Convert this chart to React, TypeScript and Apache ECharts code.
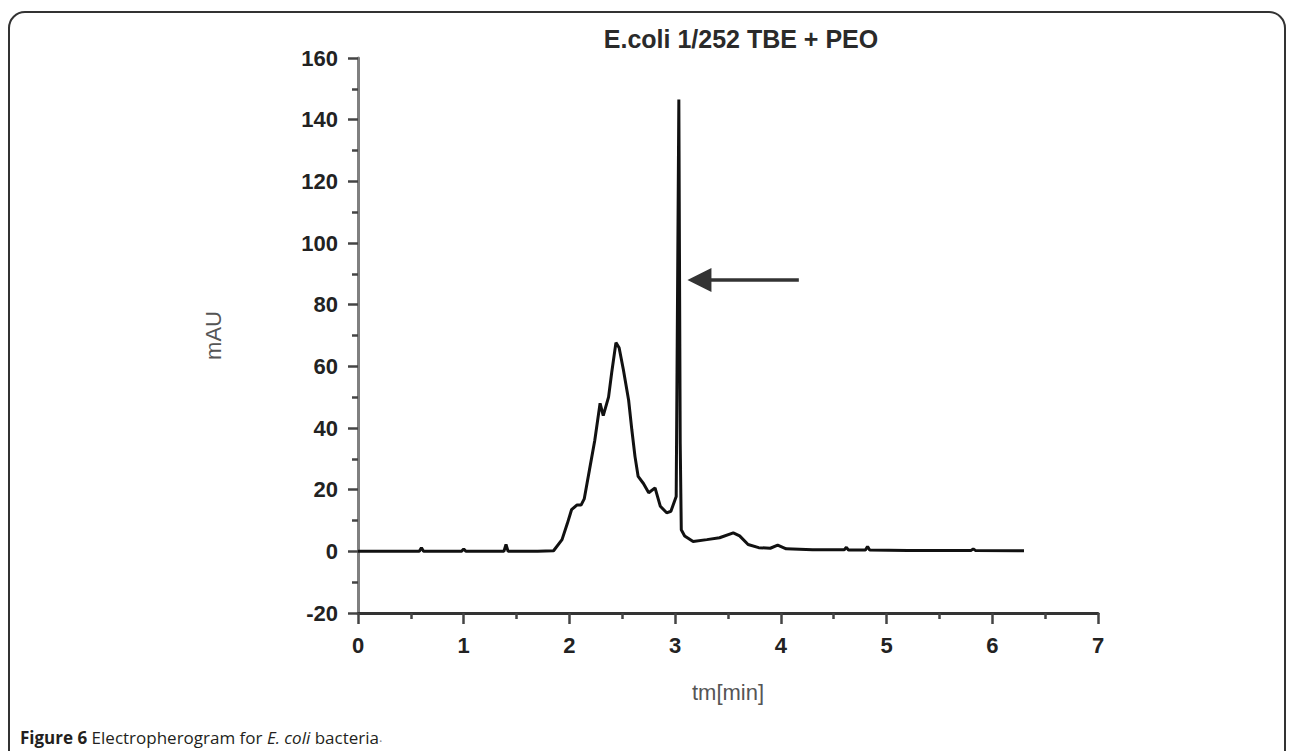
import React, { useEffect, useRef } from "react";
import * as echarts from "echarts";

// Time axis (minutes) and absorbance (mAU)
const timeMin: number[] = [
  0, 0.3, 0.58, 0.6, 0.62, 0.98, 1.0, 1.02, 1.38, 1.4, 1.42, 1.7, 1.85,
  1.93, 1.98, 2.02, 2.07, 2.11, 2.14, 2.19, 2.24, 2.29, 2.32, 2.37, 2.4,
  2.44, 2.47, 2.51, 2.56, 2.59, 2.62, 2.65, 2.7, 2.75, 2.81, 2.86, 2.92,
  2.96, 3.01, 3.035, 3.048, 3.058, 3.09, 3.17, 3.3, 3.42, 3.55, 3.61, 3.69,
  3.79, 3.9, 3.97, 4.05, 4.3, 4.6, 4.62, 4.64, 4.8, 4.82, 4.84, 5.2, 5.8,
  5.82, 5.84, 6.3,
];
const mAU: number[] = [
  0, 0, 0, 1.2, 0, 0, 0.8, 0, 0, 2.2, 0, 0, 0.2,
  3.8, 9, 13.5, 15, 15, 17, 26.5, 36, 48, 44, 50, 58,
  67.7, 66, 59, 49, 39.5, 30.8, 24.3, 22, 19, 20.6, 14.6, 12.5,
  13, 17.8, 146.5, 35, 7, 5, 3.2, 3.8, 4.4, 6, 5, 2.2,
  1.2, 1.0, 2.0, 0.8, 0.5, 0.5, 1.3, 0.4, 0.4, 1.6, 0.4, 0.3, 0.3,
  0.8, 0.3, 0.2,
];

// Arrow annotation pointing at the sharp peak (tail, head) in data units
const arrowTail: number[] = [4.17, 88];
const arrowHead: number[] = [3.23, 88];

const yTicks = { min: -20, max: 160, interval: 20 };
const xTicks = { min: 0, max: 7, interval: 1 };

const chartTitle = "E.coli 1/252 TBE + PEO";
const xName = "tm[min]";
const yName = "mAU";

export default function App() {
  const ref = useRef<HTMLDivElement>(null);

  useEffect(() => {
    document.body.style.margin = "0";
    if (!ref.current) return;
    const chart = echarts.init(ref.current, null, { renderer: "svg" });
    const data = timeMin.map((t, i) => [t, mAU[i]]);
    const labelFont = "Liberation Sans";

    chart.setOption({
      animation: false,
      backgroundColor: "#ffffff",
      grid: { left: 358, right: 194, top: 58, bottom: 138, containLabel: false },
      xAxis: {
        type: "value",
        min: xTicks.min,
        max: xTicks.max,
        interval: xTicks.interval,
        name: xName,
        nameLocation: "middle",
        nameGap: 68,
        nameTextStyle: { fontSize: 22, color: "#555", fontFamily: labelFont },
        axisLine: { show: true, onZero: false, lineStyle: { color: "#333", width: 3 } },
        axisTick: { show: true, length: 11, lineStyle: { color: "#444", width: 2.5 } },
        minorTick: { show: true, splitNumber: 2, length: 6, lineStyle: { color: "#444", width: 2.5 } },
        splitLine: { show: false },
        axisLabel: { fontSize: 22, fontWeight: "bold", color: "#222", margin: 21, fontFamily: labelFont },
      },
      yAxis: {
        type: "value",
        min: yTicks.min,
        max: yTicks.max,
        interval: yTicks.interval,
        name: yName,
        nameLocation: "middle",
        nameGap: 134,
        nameTextStyle: { fontSize: 22, color: "#555", fontFamily: labelFont },
        axisLine: { show: true, lineStyle: { color: "#808080", width: 3 } },
        axisTick: { show: true, length: 10, lineStyle: { color: "#444", width: 2.5 } },
        minorTick: { show: true, splitNumber: 2, length: 6, lineStyle: { color: "#444", width: 2.5 } },
        splitLine: { show: false },
        axisLabel: { fontSize: 22, fontWeight: "bold", color: "#222", margin: 20, fontFamily: labelFont },
      },
      series: [
        {
          type: "line",
          data,
          showSymbol: false,
          symbol: "none",
          lineStyle: { color: "#111", width: 3 },
          silent: true,
          markLine: {
            silent: true,
            symbol: ["none", "triangle"],
            symbolSize: [24, 24],
            label: { show: false },
            lineStyle: { color: "#333", width: 3.5, type: "solid" },
            data: [[{ coord: arrowTail }, { coord: arrowHead }]],
          },
        },
      ],
      graphic: [
        {
          type: "rect",
          silent: true,
          shape: { x: 9, y: 12, width: 1276, height: 820, r: 16 },
          style: { fill: "none", stroke: "#333", lineWidth: 2 },
        },
        {
          type: "text",
          x: 741,
          y: 39,
          style: {
            text: chartTitle,
            font: "bold 25px 'Liberation Sans'",
            fill: "#2a2a2a",
            textAlign: "center",
            textVerticalAlign: "middle",
          },
        },
        {
          type: "text",
          x: 20,
          y: 737,
          style: {
            text: "{b|Figure 6} Electropherogram for {i|E. coli} bacteria{d|.}",
            fontFamily: "Open Sans",
            fontSize: 17,
            fill: "#231f20",
            textVerticalAlign: "middle",
            rich: {
              b: { fontWeight: "bold", fontFamily: "Open Sans", fontSize: 17, fill: "#231f20" },
              i: { fontStyle: "italic", fontFamily: "Open Sans", fontSize: 17, fill: "#231f20" },
              d: { fontFamily: "Open Sans", fontSize: 13, fill: "#888" },
            },
          },
        },
      ],
    });

    return () => chart.dispose();
  }, []);

  return <div ref={ref} style={{ width: 1292, height: 751 }} />;
}
